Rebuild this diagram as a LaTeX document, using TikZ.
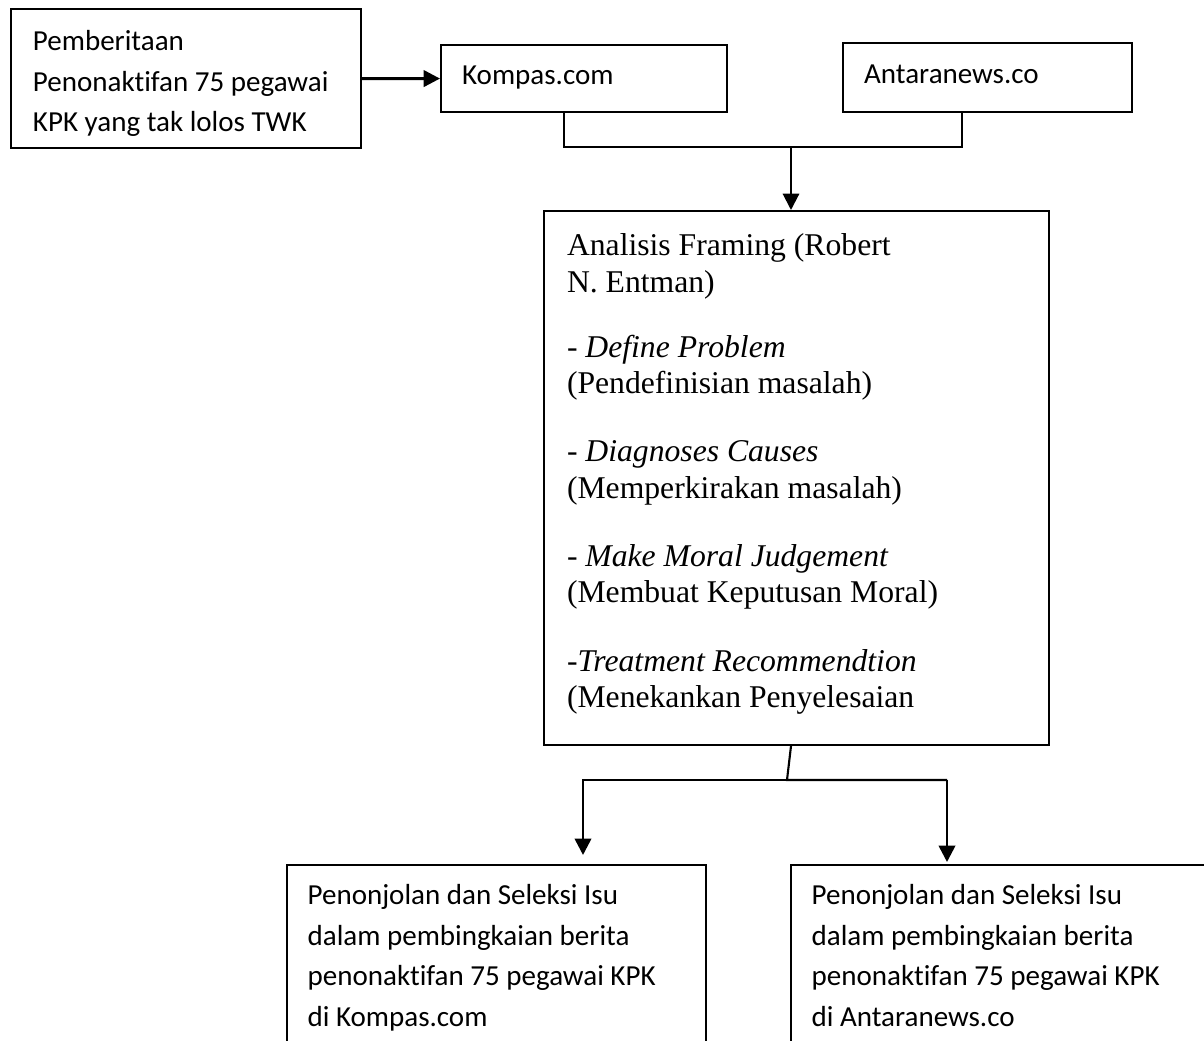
\documentclass[tikz,border=0pt]{standalone}
\usepackage{fontspec}
\setmainfont{Carlito}[Ligatures=NoCommon]
\newfontfamily\timesfont{Liberation Serif}[Ligatures=NoCommon]
\usetikzlibrary{arrows.meta}

\begin{document}
\begin{tikzpicture}[x=0.379pt, y=-0.379pt,
  kotak/.style={draw, line width=0.8pt, anchor=north west, align=flush left,
    inner ysep=0pt, inner xsep=8pt, font=\fontsize{11}{15.3}\selectfont},
  garis/.style={line width=0.8pt},
  panah/.style={line width=0.8pt, -{Triangle[length=6.2pt, width=6.2pt]}}]
  \useasboundingbox (0,0) rectangle (1204,1041);
  \node[kotak, inner xsep=8.3pt, text width=116.1pt, text height=15.8pt, text depth=36.9pt]
     (berita) at (10,8) {Pemberitaan\\Penonaktifan 75 pegawai\\KPK yang tak lolos TWK};
  \node[kotak, text width=92.4pt, text height=14.8pt, text depth=10.6pt]
     (kompas) at (440,44) {Kompas.com};
  \node[kotak, text width=93.5pt, text height=15.2pt, text depth=11pt]
     (antara) at (842,42) {Antaranews.co};
  \node[kotak, inner xsep=8.7pt, text width=174pt, text height=17pt, text depth=185.3pt,
     font=\timesfont\fontsize{12}{13.7}\selectfont]
     (analisis) at (543,210) {Analisis Framing (Robert\\
        N. Entman)\\[11pt]
        - \textit{Define Problem}\\
        (Pendefinisian masalah)\\[12.3pt]
        - \textit{Diagnoses Causes}\\
        (Memperkirakan masalah)\\[12.3pt]
        - \textit{Make Moral Judgement}\\
        (Membuat Keputusan Moral)\\[12.3pt]
        -\textit{Treatment Recommendtion}\\
        (Menekankan Penyelesaian};
  \node[kotak, inner xsep=7.8pt, text width=143.2pt, text height=15.1pt, text depth=113.7pt]
     (hasilK) at (286,864) {Penonjolan dan Seleksi Isu\\dalam pembingkaian berita\\
        penonaktifan 75 pegawai KPK\\di Kompas.com};
  \node[kotak, inner xsep=7.8pt, text width=143.2pt, text height=15.1pt, text depth=113.7pt]
     (hasilA) at (790,864) {Penonjolan dan Seleksi Isu\\dalam pembingkaian berita\\
        penonaktifan 75 pegawai KPK\\di Antaranews.co};
  \draw[panah, line width=1.1pt] (berita) -- (kompas);
  \coordinate (gabung) at (791,147);
  \draw[garis] ([xshift=-7.6pt]kompas.south) |- (gabung) -| ([xshift=-9.7pt]antara.south);
  \draw[panah] (gabung) -- (gabung |- analisis.north);
  \coordinate (cabang) at (787,780);
  \coordinate (ujungK) at (583,855);
  \coordinate (ujungA) at (947,862);
  \draw[garis] ([xshift=-2.1pt]analisis.south) -- (cabang) -- (cabang -| ujungA);
  \draw[panah, line width=1pt] (cabang) -| (ujungK);
  \draw[panah, line width=1pt] (cabang -| ujungA) -- (ujungA);
\end{tikzpicture}
\end{document}
